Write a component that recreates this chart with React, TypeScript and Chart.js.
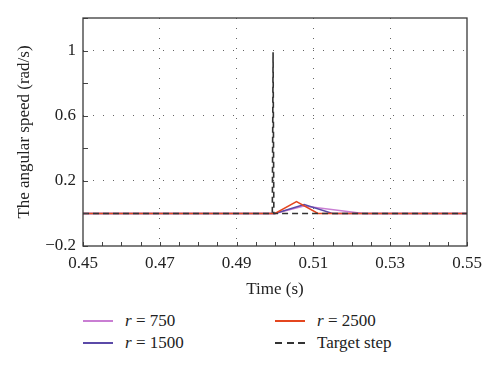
import React, { useEffect, useRef } from "react";
import { Chart, registerables } from "chart.js";
Chart.register(...registerables);

const xLimits = [0.45, 0.55];
const yLimits = [-0.2, 1.2];
const xLabelTicks = [0.45, 0.47, 0.49, 0.51, 0.53, 0.55];
const yLabelTicks = [-0.2, 0.2, 0.6, 1];

const t750 = [0.45, 0.5, 0.5075, 0.523, 0.55];
const w750 = [0, 0, 0.045, 0, 0];
const t1500 = [0.45, 0.5, 0.5076, 0.515, 0.55];
const w1500 = [0, 0, 0.054, 0, 0];
const t2500 = [0.45, 0.5, 0.5056, 0.5112, 0.55];
const w2500 = [0, 0, 0.072, 0, 0];
const tTarget = [0.45, 0.4993, 0.4995, 0.4997, 0.55];
const wTarget = [0, 0, 0.99, 0, 0];

const seriesNames = ["r = 750", "r = 1500", "r = 2500", "Target step"];
const seriesColors = ["#c97ed3", "#5b4aa8", "#e4461f", "#333333"];

const FONT = "'Liberation Serif', 'Times New Roman', serif";

const pts = (xs: number[], ys: number[]) => xs.map((x, i) => ({ x, y: ys[i] }));
const near = (v: number, arr: number[]) => arr.some((a) => Math.abs(a - v) < 1e-6);

const framePlugin = {
  id: "frameTicks",
  afterDatasetsDraw(chart: any) {
    const { ctx, chartArea: a, scales } = chart;
    ctx.save();
    ctx.strokeStyle = "#444";
    ctx.lineWidth = 1;
    for (let v = xLimits[0]; v <= xLimits[1] + 1e-9; v += 0.005) {
      const px = Math.round(scales.x.getPixelForValue(v)) + 0.5;
      ctx.beginPath();
      ctx.moveTo(px, a.bottom);
      ctx.lineTo(px, a.bottom - 4);
      ctx.stroke();
    }
    for (let v = yLimits[0]; v <= yLimits[1] + 1e-9; v += 0.2) {
      const py = Math.round(scales.y.getPixelForValue(v)) + 0.5;
      ctx.beginPath();
      ctx.moveTo(a.left, py);
      ctx.lineTo(a.left + 5, py);
      ctx.stroke();
    }
    ctx.lineWidth = 1.3;
    ctx.strokeStyle = "#3a3a3a";
    ctx.strokeRect(a.left, a.top, a.right - a.left, a.bottom - a.top);
    ctx.restore();
  },
};

export default function App() {
  const ref = useRef<HTMLCanvasElement>(null);
  useEffect(() => {
    if (!ref.current) return;
    const mk = (i: number, xs: number[], ys: number[], extra: any = {}) => ({
      label: seriesNames[i],
      data: pts(xs, ys),
      borderColor: seriesColors[i],
      backgroundColor: seriesColors[i],
      borderWidth: 1.5,
      pointRadius: 0,
      tension: 0,
      fill: false,
      ...extra,
    });
    const chart = new Chart(ref.current, {
      type: "line",
      data: {
        datasets: [
          mk(3, tTarget, wTarget, { borderDash: [6, 4], borderWidth: 1.6, order: 0 }),
          mk(2, t2500, w2500, { order: 1 }),
          mk(1, t1500, w1500, { order: 2 }),
          mk(0, t750, w750, { order: 3 }),
        ],
      },
      options: {
        animation: false,
        responsive: false,
        maintainAspectRatio: false,
        layout: { padding: { top: 18, right: 33, left: 0, bottom: 0 } },
        plugins: { legend: { display: false }, tooltip: { enabled: false } },
        scales: {
          x: {
            type: "linear",
            min: xLimits[0],
            max: xLimits[1],
            afterBuildTicks: (s: any) => {
              s.ticks = xLabelTicks.map((v) => ({ value: v }));
            },
            ticks: {
              autoSkip: false,
              maxRotation: 0,
              padding: 7,
              color: "#222",
              font: { family: FONT, size: 17 },
              callback: (v: any) => Number(v).toFixed(2),
            },
            grid: {
              drawTicks: false,
              color: (c: any) =>
                c.tick && near(c.tick.value, [0.45, 0.55]) ? "rgba(0,0,0,0)" : "#666",
              lineWidth: 1,
            },
            border: { display: false, dash: [1, 9] } as any,
            title: {
              display: true,
              text: "Time (s)",
              color: "#222",
              font: { family: FONT, size: 17 },
              padding: { top: 0, bottom: 0 },
            },
            afterFit: (s: any) => {
              s.height = 54;
            },
          },
          y: {
            type: "linear",
            min: yLimits[0],
            max: yLimits[1],
            afterBuildTicks: (s: any) => {
              s.ticks = yLabelTicks.map((v) => ({ value: v }));
            },
            ticks: {
              autoSkip: false,
              padding: 7,
              color: "#222",
              font: { family: FONT, size: 17 },
              callback: (v: any) => {
                const r = Math.round(Number(v) * 10) / 10;
                return r < 0 ? "\u2212" + String(-r) : String(r);
              },
            },
            grid: {
              drawTicks: false,
              color: (c: any) =>
                c.tick && near(c.tick.value, [-0.2]) ? "rgba(0,0,0,0)" : "#666",
              lineWidth: 1,
            },
            border: { display: false, dash: [1, 9] } as any,
            title: {
              display: true,
              text: "The angular speed (rad/s)",
              color: "#222",
              font: { family: FONT, size: 17 },
              padding: { top: 14, bottom: 4 },
            },
            afterFit: (s: any) => {
              s.width = 83;
            },
          },
        },
      } as any,
      plugins: [framePlugin],
    });
    return () => chart.destroy();
  }, []);

  const legendItem = (i: number, left: number, top: number) => {
    const name = seriesNames[i];
    const isR = name.startsWith("r ");
    const swatch =
      i === 3 ? (
        <span style={{ display: "flex", width: 30, justifyContent: "space-between", marginRight: 12 }}>
          {[0, 1, 2].map((k) => (
            <span key={k} style={{ display: "inline-block", width: 7, height: 2, background: seriesColors[i] }} />
          ))}
        </span>
      ) : (
        <span
          style={{ display: "inline-block", width: 30, height: 2, background: seriesColors[i], marginRight: 12 }}
        />
      );
    return (
      <div
        key={i}
        style={{
          position: "absolute",
          left,
          top,
          display: "flex",
          alignItems: "center",
          fontFamily: FONT,
          fontSize: 17,
          color: "#222",
          whiteSpace: "nowrap",
        }}
      >
        {swatch}
        {isR ? (
          <span>
            <i>r</i>
            {name.slice(1)}
          </span>
        ) : (
          <span>{name}</span>
        )}
      </div>
    );
  };

  return (
    <div style={{ position: "absolute", left: 0, top: 0, width: 500, height: 372, background: "#fff" }}>
      <canvas ref={ref} width={500} height={300} style={{ position: "absolute", left: 0, top: 0 }} />
      {legendItem(0, 83, 311)}
      {legendItem(1, 83, 333)}
      {legendItem(2, 275, 311)}
      {legendItem(3, 275, 333)}
    </div>
  );
}
